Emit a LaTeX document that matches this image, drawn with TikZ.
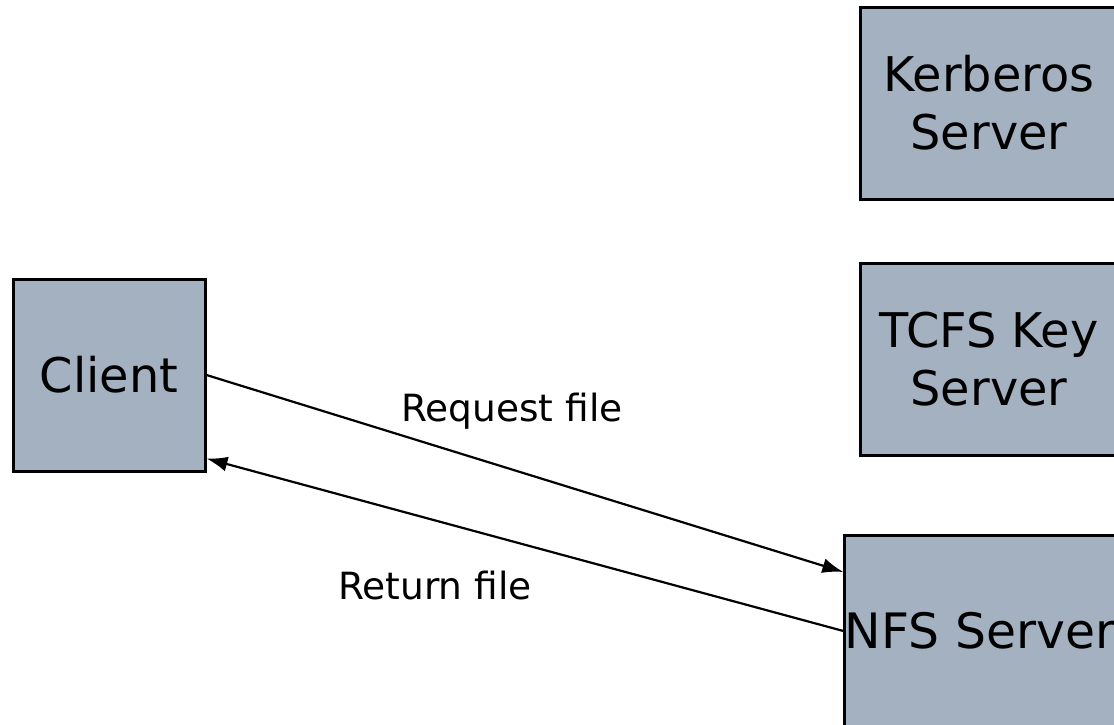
\documentclass[tikz,border=0pt]{standalone}
\usepackage{fontspec}
\setmainfont{DejaVu Sans}
\usetikzlibrary{arrows.meta,calc}
\definecolor{boxfill}{HTML}{A3B1C0}
\begin{document}
\begin{tikzpicture}[x=1pt,y=-1pt,
  srvbox/.style={draw=black, line width=3pt, fill=boxfill, rectangle, inner sep=0pt,
    align=center, minimum height=192pt, font=\fontsize{47.8}{58}\selectfont},
  conn/.style={line width=2.2pt, -{Latex[length=21pt,width=15pt]}},
  lbl/.style={font=\fontsize{37.5}{45}\selectfont, anchor=base, inner sep=0pt}]
\useasboundingbox (0,0) rectangle (1114,724);
\clip (0,0) rectangle (1114,724);
\node[srvbox, minimum width=192pt] (client) at (109,375) {Client};
\node[srvbox, minimum width=257pt] (kerb) at (989,103) {Kerberos\\Server};
\node[srvbox, minimum width=257pt] (tcfs) at (989,359) {TCFS Key\\Server};
\node[srvbox, minimum width=270pt, font=\fontsize{48.8}{58}\selectfont] (nfs) at (980,631) {NFS Server};
\draw[conn] (client.east) -- ($(nfs.west)+(0,-59)$);
\draw[conn] (nfs.west) -- ($(client.south east)+(0,-14)$);
\node[lbl] (req) at (512,421) {Request file};
\node[lbl] (ret) at (435,599) {Return file};
\end{tikzpicture}
\end{document}
